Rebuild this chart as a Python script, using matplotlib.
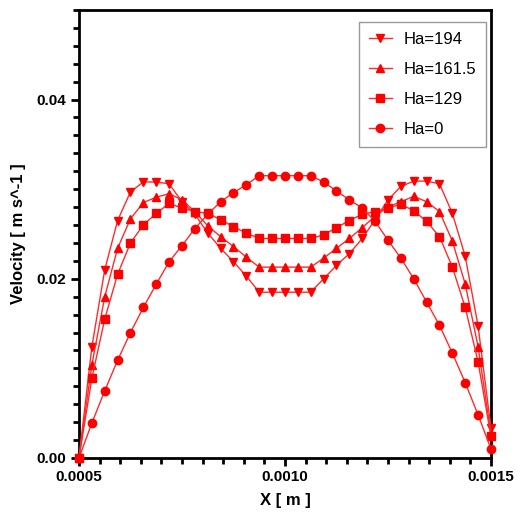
import numpy as np
import matplotlib
matplotlib.use("Agg")
import matplotlib.pyplot as plt
from matplotlib.ticker import MultipleLocator

plt.rcParams['font.family'] = ['Liberation Sans', 'DejaVu Sans']

# x positions of the samples (33 points across the channel)
x_pos = np.linspace(0.0005, 0.0015, 33)

vel_ha194 = [0.0, 0.0124, 0.0210, 0.0265, 0.0297, 0.0308, 0.0308, 0.0306, 0.0286, 0.0272,
             0.0251, 0.0234, 0.0219, 0.0203, 0.0185, 0.0185, 0.0185, 0.0185, 0.0185, 0.0200,
             0.0215, 0.0228, 0.0245, 0.0266, 0.0288, 0.0303, 0.0309, 0.0309, 0.0306, 0.0273,
             0.0225, 0.0147, 0.0033]
vel_ha161 = [0.0, 0.0104, 0.0180, 0.0234, 0.0267, 0.0285, 0.0291, 0.0295, 0.0288, 0.0275,
             0.0259, 0.0247, 0.0236, 0.0224, 0.0213, 0.0213, 0.0213, 0.0213, 0.0213, 0.0223,
             0.0234, 0.0245, 0.0257, 0.0270, 0.0280, 0.0286, 0.0292, 0.0286, 0.0275, 0.0242,
             0.0194, 0.0124, 0.0026]
vel_ha129 = [0.0, 0.0089, 0.0155, 0.0205, 0.0240, 0.0260, 0.0273, 0.0284, 0.0279, 0.0275,
             0.0273, 0.0266, 0.0258, 0.0251, 0.0245, 0.0245, 0.0245, 0.0245, 0.0245, 0.0249,
             0.0257, 0.0265, 0.0272, 0.0275, 0.0279, 0.0283, 0.0276, 0.0264, 0.0247, 0.0213,
             0.0168, 0.0107, 0.0024]
vel_ha0 = [0.0, 0.0039, 0.0075, 0.0109, 0.0140, 0.0168, 0.0194, 0.0219, 0.0237, 0.0256,
           0.0272, 0.0286, 0.0296, 0.0305, 0.0315, 0.0315, 0.0315, 0.0315, 0.0315, 0.0308,
           0.0298, 0.0288, 0.0279, 0.0264, 0.0243, 0.0223, 0.0200, 0.0174, 0.0148, 0.0117,
           0.0084, 0.0048, 0.0010]

series = [
    (vel_ha194, 'v', 'Ha=194'),
    (vel_ha161, '^', 'Ha=161.5'),
    (vel_ha129, 's', 'Ha=129'),
    (vel_ha0, 'o', 'Ha=0'),
]

fig = plt.figure(figsize=(5.21, 5.23), dpi=100)
ax = fig.add_axes([0.1516, 0.1243, 0.7908, 0.8567])

for vals, mk, lab in series:
    ax.plot(x_pos, vals, color='#ff2a2a', linewidth=1.0, marker=mk,
            markersize=6, markerfacecolor='red', markeredgecolor='red',
            label=lab, clip_on=False, zorder=3)

ax.set_xlim(0.0005, 0.0015)
ax.set_ylim(0, 0.05)
ax.set_xticks([0.0005, 0.0010, 0.0015])
ax.set_xticklabels(['0.0005', '0.0010', '0.0015'])
ax.set_yticks([0.0, 0.02, 0.04])
ax.set_yticklabels(['0.00', '0.02', '0.04'])
ax.xaxis.set_minor_locator(MultipleLocator(0.00005))
ax.yaxis.set_minor_locator(MultipleLocator(0.002))

for s in ax.spines.values():
    s.set_linewidth(2)
ax.tick_params(which='major', direction='out', length=6, width=2, labelsize=11, pad=3)
ax.tick_params(which='minor', direction='out', length=4, width=2)
for lbl in ax.get_xticklabels() + ax.get_yticklabels():
    lbl.set_fontweight('bold')

ax.set_xlabel('X [ m ]', fontsize=12, fontweight='bold', labelpad=6)
ax.set_ylabel('Velocity [ m s^-1 ]', fontsize=12, fontweight='bold', labelpad=8)

# legend box in the upper right, anchored in figure coords
leg = ax.legend(loc='upper right', bbox_to_anchor=(0.9328, 0.958),
                bbox_transform=fig.transFigure, borderaxespad=0, fontsize=12,
                frameon=True, fancybox=False, edgecolor='gray', handlelength=1.35,
                labelspacing=0.9, borderpad=0.6, handletextpad=0.7)
leg.get_frame().set_linewidth(1.0)

fig.savefig('out.png', dpi=100)
